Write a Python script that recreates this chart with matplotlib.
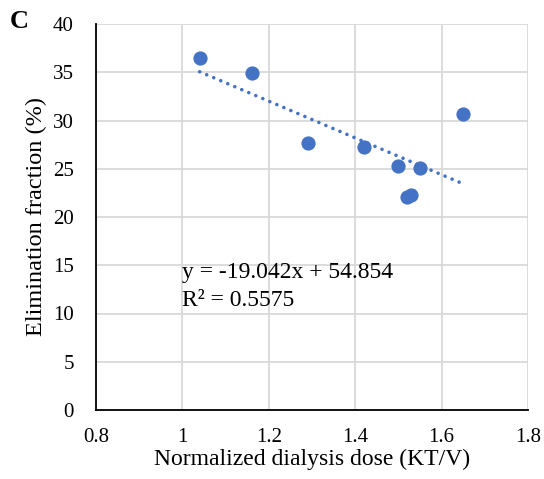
import numpy as np
import matplotlib.pyplot as plt

# data
kt_v = [1.04, 1.16, 1.29, 1.42, 1.50, 1.52, 1.53, 1.55, 1.65]
elim = [36.5, 34.9, 27.7, 27.3, 25.3, 22.1, 22.3, 25.1, 30.7]
slope, intercept = -19.042, 54.854
r2 = 0.5575

plt.rcParams['font.family'] = ['Liberation Serif', 'DejaVu Serif']

fig = plt.figure(figsize=(5.44, 4.79), dpi=100)
ax = fig.add_axes([96 / 544, 1 - 410 / 479, 432 / 544, 386 / 479])

blue = '#4472C4'

# trendline
xt = np.array([min(kt_v), max(kt_v)])
ax.plot(xt, slope * xt + intercept, color=blue, lw=2.6,
        linestyle=(0, (0.01, 2.1)), dash_capstyle='round', zorder=2)

ax.scatter(kt_v, elim, s=105, color=blue, zorder=3, linewidths=0)

ax.set_xlim(0.8, 1.8)
ax.set_ylim(0, 40)
ax.set_xticks(np.arange(0.8, 1.81, 0.2))
ax.set_xticklabels(['0.8', '1', '1.2', '1.4', '1.6', '1.8'])
ax.set_yticks(range(0, 41, 5))
ax.tick_params(length=0, labelsize=15)
ax.tick_params(axis='x', pad=13)
ax.tick_params(axis='y', pad=16)
ax.grid(True, color='#d9d9d9', lw=1.3)
ax.set_axisbelow(True)
for s in ['top', 'right']:
    ax.spines[s].set_visible(False)
for s in ['left', 'bottom']:
    ax.spines[s].set_color('black')
    ax.spines[s].set_linewidth(1.3)

ax.set_xlabel('Normalized dialysis dose (KT/V)', fontsize=17, labelpad=1)
ax.set_ylabel('Elimination fraction (%)', fontsize=17.5, labelpad=4)

ax.text(1.0, 14.3, f'y = {slope}x + {intercept}', fontsize=17, va='center')
ax.text(1.0, 11.3, f'R² = {r2}', fontsize=17, va='center')

fig.text(10 / 544, 1 - 21 / 479, 'C', fontsize=19, fontweight='bold', va='center')

fig.savefig('out.png', dpi=100)
